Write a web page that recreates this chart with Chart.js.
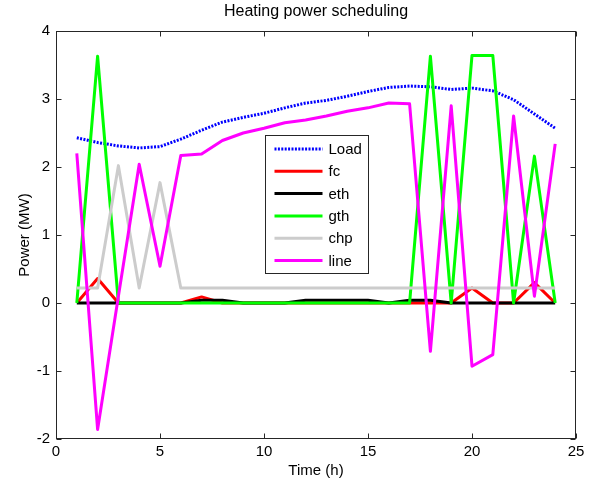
<!DOCTYPE html>
<html>
<head>
<meta charset="utf-8">
<title>Heating power scheduling</title>
<script src="https://cdn.jsdelivr.net/npm/chart.js@4.4.1/dist/chart.umd.min.js"></script>
<style>
    html, body { margin: 0; padding: 0; background: #fff; }
</style>
</head>
<body>
<canvas id="chart" width="606" height="485"></canvas>
<script>
// Hours of the day
const hours = [1, 2, 3, 4, 5, 6, 7, 8, 9, 10, 11, 12, 13, 14, 15, 16, 17, 18, 19, 20, 21, 22, 23, 24];

// Heating power per source (MW)
const loadMW = [2.43, 2.36, 2.31, 2.28, 2.30, 2.41, 2.54, 2.66, 2.73, 2.79, 2.87, 2.94, 2.98, 3.04, 3.11, 3.17, 3.19, 3.18, 3.14, 3.16, 3.12, 2.99, 2.78, 2.57];
const fcMW   = [0, 0.36, 0, 0, 0, 0, 0.09, 0, 0, 0, 0, 0, 0, 0, 0, 0, 0, 0, 0, 0.22, 0, 0, 0.30, 0];
const ethMW  = [0, 0, 0, 0, 0, 0, 0.04, 0.04, 0, 0, 0, 0.04, 0.04, 0.04, 0.04, 0, 0.04, 0.04, 0, 0, 0, 0, 0, 0];
const gthMW  = [0, 3.63, 0, 0, 0, 0, 0, 0, 0, 0, 0, 0, 0, 0, 0, 0, 0, 3.63, 0, 3.64, 3.64, 0, 2.16, 0];
const chpMW  = [0.22, 0.22, 2.02, 0.22, 1.77, 0.22, 0.22, 0.22, 0.22, 0.22, 0.22, 0.22, 0.22, 0.22, 0.22, 0.22, 0.22, 0.22, 0.22, 0.22, 0.22, 0.22, 0.22, 0.22];
const lineMW = [2.20, -1.86, 0.10, 2.04, 0.54, 2.17, 2.19, 2.39, 2.50, 2.57, 2.65, 2.69, 2.75, 2.82, 2.87, 2.94, 2.93, -0.71, 2.90, -0.93, -0.76, 2.75, 0.10, 2.34];

// Axis ticks
const xTicks = [0, 5, 10, 15, 20, 25];
const yTicks = [-2, -1, 0, 1, 2, 3, 4];

const FONT = "'Liberation Sans', Arial, Helvetica, sans-serif";
Chart.defaults.font.family = FONT;
Chart.defaults.color = '#000';

function toPoints(values) {
    return hours.map((h, i) => ({ x: h, y: values[i] }));
}

function series(label, values, color, order, dash) {
    return {
        label: label,
        data: toPoints(values),
        borderColor: color,
        backgroundColor: color,
        borderWidth: 3,
        borderDash: dash || [],
        borderJoinStyle: 'round',
        pointRadius: 0,
        tension: 0,
        fill: false,
        order: order
    };
}

// Title centred over the plot area (MATLAB style)
const plotTitle = {
    id: 'plotTitle',
    afterDraw(chart) {
        const { ctx, chartArea: a } = chart;
        ctx.save();
        ctx.font = '16px ' + FONT;
        ctx.fillStyle = '#000';
        ctx.textAlign = 'center';
        ctx.textBaseline = 'middle';
        ctx.fillText('Heating power scheduling', (a.left + a.right) / 2, 12);
        ctx.restore();
    }
};

// MATLAB-like box with inward ticks on all four sides
const boxAxes = {
    id: 'boxAxes',
    afterDatasetsDraw(chart) {
        const { ctx, chartArea: a, scales } = chart;
        const L = Math.round(a.left) + 0.5, R = Math.round(a.right) - 0.5;
        const T = Math.round(a.top) + 0.5, B = Math.round(a.bottom) - 0.5;
        const len = 5;
        ctx.save();
        ctx.strokeStyle = '#262626';
        ctx.lineWidth = 1;
        ctx.strokeRect(L, T, R - L, B - T);
        ctx.beginPath();
        xTicks.forEach(v => {
            const px = Math.round(scales.x.getPixelForValue(v)) + 0.5;
            ctx.moveTo(px, B); ctx.lineTo(px, B - len);
            ctx.moveTo(px, T); ctx.lineTo(px, T + len);
        });
        yTicks.forEach(v => {
            const py = Math.round(scales.y.getPixelForValue(v)) + 0.5;
            ctx.moveTo(L, py); ctx.lineTo(L + len, py);
            ctx.moveTo(R, py); ctx.lineTo(R - len, py);
        });
        ctx.stroke();
        ctx.restore();
    }
};

// Legend box placed inside the plot area
const innerLegend = {
    id: 'innerLegend',
    afterDraw(chart) {
        const { ctx, chartArea: a } = chart;
        const bx = Math.round(a.left) + 209.5, by = Math.round(a.top) + 104.5;
        const bw = 103, bh = 138;
        ctx.save();
        ctx.fillStyle = '#fff';
        ctx.fillRect(bx, by, bw, bh);
        ctx.strokeStyle = '#262626';
        ctx.lineWidth = 1;
        ctx.strokeRect(bx, by, bw, bh);
        ctx.font = '15px ' + FONT;
        ctx.textBaseline = 'middle';
        ctx.textAlign = 'left';
        chart.data.datasets.forEach((ds, i) => {
            const yy = by + 13.5 + i * 22.3;
            ctx.beginPath();
            ctx.strokeStyle = ds.borderColor;
            ctx.lineWidth = 3;
            ctx.setLineDash(ds.borderDash || []);
            ctx.moveTo(bx + 9, yy);
            ctx.lineTo(bx + 57, yy);
            ctx.stroke();
            ctx.setLineDash([]);
            ctx.fillStyle = '#000';
            ctx.fillText(ds.label, bx + 63, yy + 1);
        });
        ctx.restore();
    }
};

const ctx = document.getElementById('chart').getContext('2d');
new Chart(ctx, {
    type: 'line',
    data: {
        datasets: [
            series('Load', loadMW, '#0000ff', 6, [2, 1.4]),
            series('fc', fcMW, '#ff0000', 5),
            series('eth', ethMW, '#000000', 4),
            series('gth', gthMW, '#00ff00', 3),
            series('chp', chpMW, '#cccccc', 2),
            series('line', lineMW, '#ff00ff', 1)
        ]
    },
    options: {
        responsive: false,
        animation: false,
        layout: { padding: { left: 0, right: 30, top: 31, bottom: 0 } },
        scales: {
            x: {
                type: 'linear',
                min: 0,
                max: 25,
                grid: { display: false, drawTicks: false },
                border: { display: false },
                ticks: {
                    stepSize: 5,
                    padding: 4,
                    maxRotation: 0,
                    font: { size: 15 },
                    callback: v => v
                },
                title: {
                    display: true,
                    text: 'Time (h)',
                    font: { size: 15 },
                    padding: { top: 0, bottom: 5 }
                },
                afterFit: s => { s.height = 46; }
            },
            y: {
                min: -2,
                max: 4,
                grid: { display: false, drawTicks: false },
                border: { display: false },
                ticks: {
                    stepSize: 1,
                    padding: 6,
                    font: { size: 15 }
                },
                title: {
                    display: true,
                    text: 'Power (MW)',
                    font: { size: 15 },
                    padding: { top: 16, bottom: 0 }
                },
                afterFit: s => { s.width = 56; }
            }
        },
        plugins: {
            legend: { display: false },
            tooltip: { enabled: false },
            title: { display: false }
        }
    },
    plugins: [boxAxes, innerLegend, plotTitle]
});
</script>
</body>
</html>
